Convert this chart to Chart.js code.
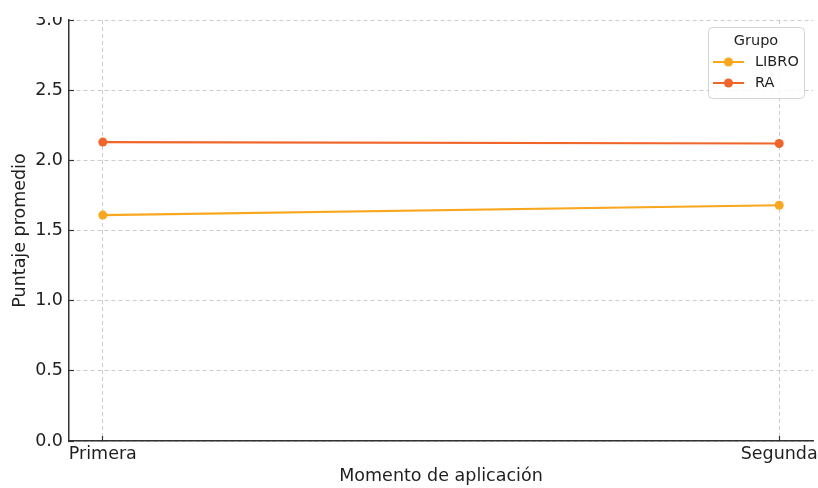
<!DOCTYPE html>
<html>
<head>
<meta charset="utf-8">
<script src="https://cdn.jsdelivr.net/npm/chart.js@4.4.1/dist/chart.umd.min.js"></script>
<style>
  html, body { margin:0; padding:0; background:#fff; width:818px; height:488px; overflow:hidden; }
  #wrap { position:absolute; left:0; top:17px; width:818px; height:471px; overflow:hidden; }
  #c { position:absolute; left:0; top:-17px; }
</style>
</head>
<body>
<div id="wrap"><canvas id="c" width="818" height="488"></canvas></div>
<script>
// ---- data ----
const categories = ['Primera', 'Segunda'];
const seriesNames = ['LIBRO', 'RA'];
const libroValues = [1.61, 1.68];
const raValues = [2.13, 2.12];
const yTicks = [0, 0.5, 1.0, 1.5, 2.0, 2.5, 3.0];
const legendTitle = 'Grupo';
const xTitle = 'Momento de aplicación';
const yTitle = 'Puntaje promedio';

const colors = ['#F9A71F', '#F0652A'];
const FONT = "'DejaVu Sans', sans-serif";
const TEXT = '#1f1f1f';

const toPoints = arr => arr.map((v, i) => ({ x: i, y: v }));

const legendPlugin = {
  id: 'boxLegend',
  afterDraw(chart) {
    const { ctx, chartArea } = chart;
    const w = 96, h = 71;
    const x = chartArea.right - w - 9, y = chartArea.top + 7;
    ctx.save();
    ctx.beginPath();
    if (ctx.roundRect) ctx.roundRect(x + 0.5, y + 0.5, w, h, 4); else ctx.rect(x + 0.5, y + 0.5, w, h);
    ctx.fillStyle = 'rgba(255,255,255,0.85)';
    ctx.fill();
    ctx.strokeStyle = '#d4d4d4';
    ctx.lineWidth = 1;
    ctx.stroke();
    ctx.fillStyle = TEXT;
    ctx.font = '14.5px ' + FONT;
    ctx.textAlign = 'center';
    ctx.textBaseline = 'middle';
    ctx.fillText(legendTitle, x + w / 2, y + 14);
    chart.data.datasets.forEach((ds, i) => {
      const ry = y + 35 + i * 21;
      ctx.strokeStyle = ds.borderColor;
      ctx.lineWidth = 2;
      ctx.beginPath();
      ctx.moveTo(x + 5, ry);
      ctx.lineTo(x + 36, ry);
      ctx.stroke();
      ctx.fillStyle = ds.borderColor;
      ctx.beginPath();
      ctx.arc(x + 20.5, ry, 4.5, 0, Math.PI * 2);
      ctx.fill();
      ctx.fillStyle = TEXT;
      ctx.textAlign = 'left';
      ctx.fillText(ds.label, x + 47, ry);
    });
    ctx.restore();
  }
};

new Chart(document.getElementById('c'), {
  type: 'line',
  data: {
    datasets: [
      { label: seriesNames[0], data: toPoints(libroValues), borderColor: colors[0], backgroundColor: colors[0],
        borderWidth: 2.2, pointRadius: 4.5, pointHoverRadius: 4.5, pointBorderWidth: 0, tension: 0 },
      { label: seriesNames[1], data: toPoints(raValues), borderColor: colors[1], backgroundColor: colors[1],
        borderWidth: 2.2, pointRadius: 4.5, pointHoverRadius: 4.5, pointBorderWidth: 0, tension: 0 }
    ]
  },
  options: {
    responsive: false,
    animation: false,
    devicePixelRatio: 1,
    layout: { padding: { top: 20, left: 0, right: 5, bottom: 0 } },
    plugins: { legend: { display: false }, tooltip: { enabled: false } },
    scales: {
      x: {
        type: 'linear',
        min: -0.05,
        max: 1.05,
        afterBuildTicks: s => { s.ticks = categories.map((_, i) => ({ value: i })); },
        afterFit: s => { s.height = 47; s.paddingLeft = 0; s.paddingRight = 0; },
        ticks: { callback: v => categories[v] ?? '', color: TEXT, font: { family: FONT, size: 17.5 }, padding: 8, maxRotation: 0, autoSkip: false },
        grid: { color: '#c6c6c6', lineWidth: 0.9, tickLength: -5, tickColor: '#333', tickWidth: 1.2, tickBorderDash: [] },
        border: { display: true, color: '#333', width: 1.5, dash: [4, 3] },
        title: { display: true, text: xTitle, color: TEXT, font: { family: FONT, size: 17.5 }, padding: { top: 0, bottom: 1 } }
      },
      y: {
        min: 0,
        max: 3,
        afterBuildTicks: s => { s.ticks = yTicks.map(v => ({ value: v })); },
        afterFit: s => { s.width = 69; s.paddingTop = 0; s.paddingBottom = 0; },
        ticks: { callback: v => Number(v).toFixed(1), color: TEXT, font: { family: FONT, size: 17.5 }, padding: 11 },
        grid: { color: '#c6c6c6', lineWidth: 0.9, tickLength: -5, tickColor: '#333', tickWidth: 1.2, tickBorderDash: [] },
        border: { display: true, color: '#333', width: 1.5, dash: [4, 3] },
        title: { display: true, text: yTitle, color: TEXT, font: { family: FONT, size: 17.5 }, padding: { top: 10, bottom: 0 } }
      }
    }
  },
  plugins: [legendPlugin]
});
</script>
</body>
</html>
